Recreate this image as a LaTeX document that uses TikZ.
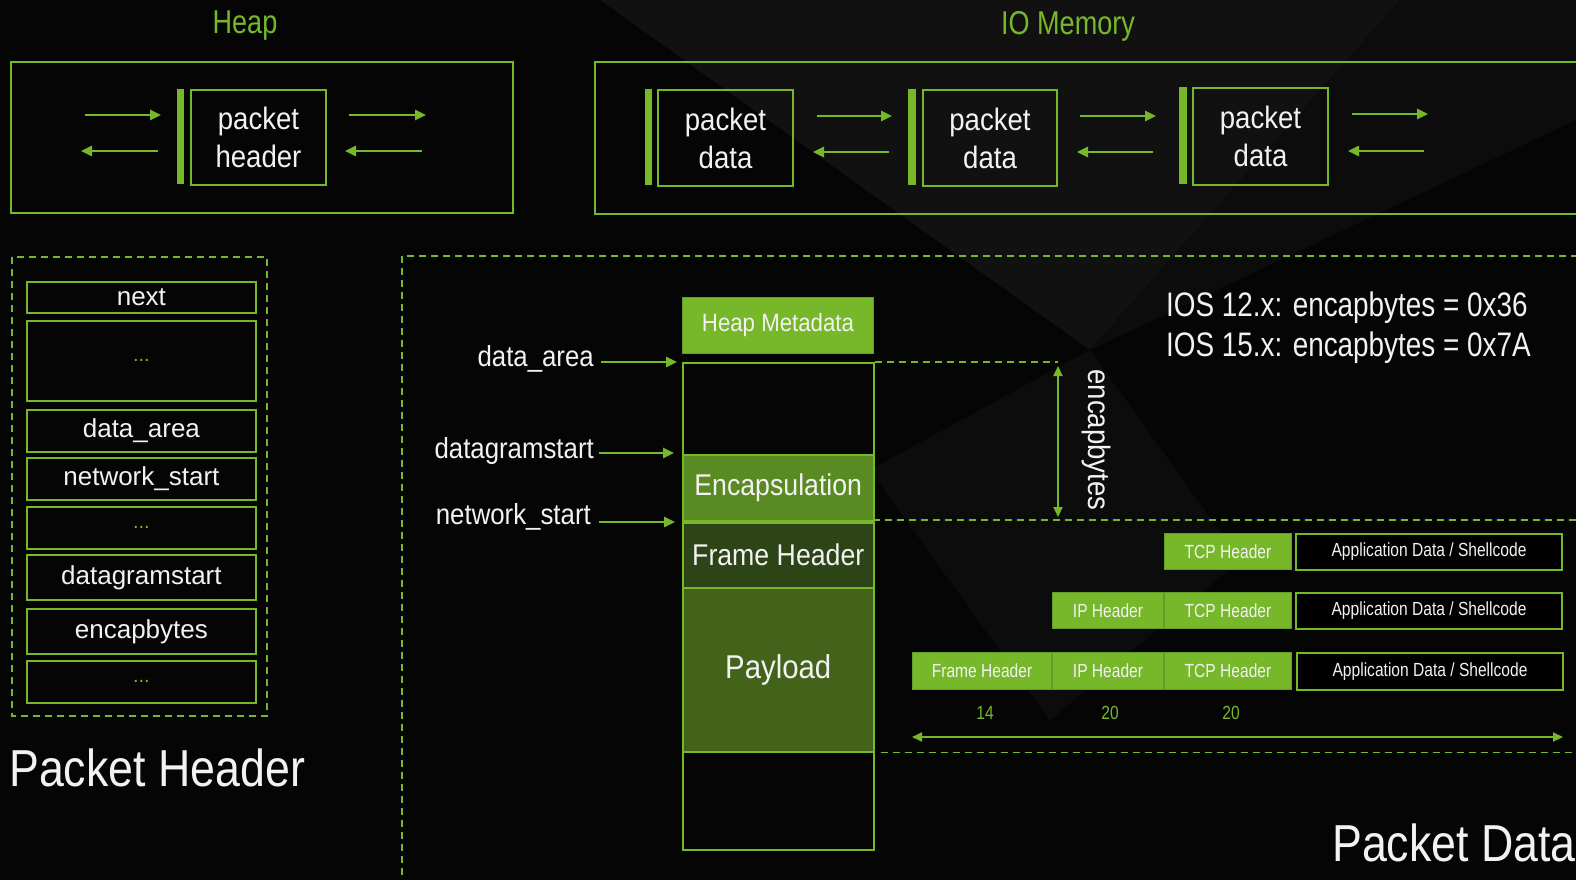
\documentclass[tikz,border=0pt]{standalone}
\usepackage{fontspec}
\setmainfont{Liberation Sans}
\newfontfamily\condf[FakeStretch=0.82]{Liberation Sans}
\newfontfamily\midf[FakeStretch=0.89]{Liberation Sans}
\newfontfamily\bigf[FakeStretch=0.86]{Liberation Sans}
\usetikzlibrary{arrows.meta}
\definecolor{ngreen}{HTML}{76B82A}
\definecolor{hdrg}{HTML}{76B82A}
\definecolor{encg}{HTML}{5A8A22}
\definecolor{frg}{HTML}{2D4516}
\definecolor{payg}{HTML}{43631A}
\definecolor{bgc}{HTML}{050505}
\definecolor{bgl}{HTML}{111111}
\definecolor{bgm}{HTML}{0C0C0C}
\definecolor{txt}{HTML}{F2F2F2}
\newcommand{\fsz}[2]{\fontsize{#1}{#2}\selectfont}
\begin{document}
\begin{tikzpicture}[x=1pt,y=-1pt,
  frame/.style={draw=ngreen,line width=2pt},
  gbar/.style={fill=ngreen,draw=none,inner sep=0pt,anchor=north west},
  pbox/.style={draw=ngreen,line width=2pt,text=txt,align=center,inner sep=0pt,anchor=north west,font=\midf\fsz{31}{38}},
  title/.style={text=ngreen,font=\condf\fsz{33}{36}},
  fld/.style={draw=ngreen,line width=1.8pt,text=txt,inner sep=0pt,anchor=north west,minimum width=229pt,font=\fsz{26}{30}},
  dots/.style={text=ngreen,font=\fsz{20}{24}},
  arr/.style={ngreen,line width=2.5pt,-{Triangle[length=11pt,width=10pt]}},
  darr/.style={ngreen,line width=2pt,{Triangle[length=10pt,width=9pt]}-{Triangle[length=10pt,width=9pt]}},
  dsh/.style={ngreen,line width=1.5pt,dash pattern=on 7pt off 5pt},
  lbl/.style={text=txt,anchor=east,font=\midf\fsz{29}{32},inner sep=0pt},
  col/.style={draw=ngreen,line width=1.5pt,inner sep=0pt,anchor=north west,minimum width=191pt,text=txt},
  hdr/.style={fill=hdrg,draw=ngreen!85!black,line width=1pt,text=txt,inner sep=0pt,anchor=north west,font=\condf\fsz{19}{22}},
  app/.style={fill=black,draw=ngreen,line width=2pt,text=txt,inner sep=0pt,anchor=north west,minimum width=266pt,font=\condf\fsz{19}{22}},
  num/.style={text=ngreen,font=\condf\fsz{19}{22}},
  big/.style={text=txt,anchor=base west,inner sep=0pt,font=\bigf\fsz{52}{56}},
  iosl/.style={text=txt,anchor=base west,inner sep=0pt,font=\condf\fsz{34}{40}}
]
\useasboundingbox (0,0) rectangle (1576,880);
\clip (0,0) rectangle (1576,880);
% background
\fill[bgc] (0,0) rectangle (1576,880);
\fill[bgl] (600,0) -- (1400,0) -- (1090,350) -- cycle;
\fill[bgm] (1090,350) -- (1240,560) -- (1050,720) -- (870,470) -- cycle;
\fill[bgm] (1400,0) -- (1576,0) -- (1576,120) -- (1090,350) -- cycle;

% ===== Heap =====
\node[title] (heapt) at (245,26) {Heap};
\node[frame,anchor=north west,minimum width=502pt,minimum height=151pt,inner sep=0pt] (heapbox) at (10,61) {};
\node[gbar,minimum width=7pt,minimum height=95pt] (hbar) at (177,89) {};
\node[pbox,minimum width=135pt,minimum height=95pt] (ph) at (190,89) {packet\\header};
\coordinate (h1a) at (85,115);  \coordinate (h1b) at (161,115);
\coordinate (h2a) at (158,151); \coordinate (h2b) at (81,151);
\coordinate (h3a) at (349,115); \coordinate (h3b) at (426,115);
\coordinate (h4a) at (422,151); \coordinate (h4b) at (345,151);
\draw[arr] (h1a) -- (h1b);
\draw[arr] (h2a) -- (h2b);
\draw[arr] (h3a) -- (h3b);
\draw[arr] (h4a) -- (h4b);

% ===== IO Memory =====
\node[title] (iot) at (1068,26) {IO Memory};
\node[frame,anchor=north west,minimum width=1000pt,minimum height=152pt,inner sep=0pt] (iobox) at (594,61) {};
\node[gbar,minimum width=7pt,minimum height=96pt] (b1) at (645,89) {};
\node[pbox,minimum width=135pt,minimum height=96pt] (d1) at (657,89) {packet\\data};
\node[gbar,minimum width=8pt,minimum height=96pt] (b2) at (908,89) {};
\node[pbox,minimum width=134pt,minimum height=96pt] (d2) at (922,89) {packet\\data};
\node[gbar,minimum width=8pt,minimum height=97pt] (b3) at (1179,87) {};
\node[pbox,minimum width=135pt,minimum height=97pt] (d3) at (1192,87) {packet\\data};
\coordinate (i1a) at (817,116);  \coordinate (i1b) at (892,116);
\coordinate (i2a) at (889,152);  \coordinate (i2b) at (813,152);
\coordinate (i3a) at (1080,116); \coordinate (i3b) at (1156,116);
\coordinate (i4a) at (1153,152); \coordinate (i4b) at (1077,152);
\coordinate (i5a) at (1352,114); \coordinate (i5b) at (1428,114);
\coordinate (i6a) at (1424,151); \coordinate (i6b) at (1348,151);
\draw[arr] (i1a) -- (i1b);
\draw[arr] (i2a) -- (i2b);
\draw[arr] (i3a) -- (i3b);
\draw[arr] (i4a) -- (i4b);
\draw[arr] (i5a) -- (i5b);
\draw[arr] (i6a) -- (i6b);

% ===== Packet Header panel =====
\draw[dsh] (12,257) rectangle (267,716);
\node[fld,minimum height=31pt] (f1) at (26,281) {next};
\node[fld,minimum height=80pt] (f2) at (26,320) {};
\node[dots] (f2d) at (f2.center) {...};
\node[fld,minimum height=42pt] (f3) at (26,409) {data\_area};
\node[fld,minimum height=42pt] (f4) at (26,457) {network\_start};
\node[fld,minimum height=42pt] (f5) at (26,506) {};
\node[dots] (f5d) at (f5.center) {...};
\node[fld,minimum height=45pt] (f6) at (26,554) {datagramstart};
\node[fld,minimum height=45pt] (f7) at (26,608) {encapbytes};
\node[fld,minimum height=42pt] (f8) at (26,660) {};
\node[dots] (f8d) at (f8.center) {...};
\node[big] (pht) at (9,786) {Packet Header};

% ===== Packet Data panel =====
\draw[dsh] (402,256) rectangle (1600,900);
\node[fill=hdrg,draw=ngreen!85!black,line width=1pt,text=txt,inner sep=0pt,anchor=north west,minimum width=191pt,minimum height=56pt,font=\midf\fsz{25}{28}] (hm) at (682,297) {Heap Metadata};
\node[col,minimum height=487pt] (colm) at (682,362) {};
\node[col,fill=encg,minimum height=66pt,font=\midf\fsz{30}{34}] (enc) at (682,454) {Encapsulation};
\node[col,fill=frg,minimum height=65pt,font=\midf\fsz{30}{34}] (frh) at (682,522) {Frame Header};
\node[col,fill=payg,minimum height=164pt,font=\midf\fsz{33}{36}] (pay) at (682,587) {Payload};

\node[lbl] (lda) at (594,359) {data\_area};
\node[lbl] (ldg) at (594,451) {datagramstart};
\node[lbl] (lns) at (591,517) {network\_start};
\coordinate (pda) at (677,362);
\coordinate (pdg) at (674,453);
\coordinate (pns) at (675,522);
\draw[arr] ([xshift=7pt]lda.east |- pda) -- (pda);
\draw[arr] ([xshift=5pt]ldg.east |- pdg) -- (pdg);
\draw[arr] ([xshift=8pt]lns.east |- pns) -- (pns);

\coordinate (e1) at (1058,362);
\coordinate (e2) at (1600,520);
\draw[dsh] (colm.north east) -- (e1);
\draw[dsh] (enc.south east) -- (e2 -| enc.south east) -- (e2);
\draw[dsh] ([xshift=6pt]pay.south east) -- ++(800,0);
\coordinate (ea) at (1058,366);
\coordinate (eb) at (1058,517);
\draw[darr] (ea) -- (eb);
\node[text=txt,rotate=-90,font=\midf\fsz{31}{34},inner sep=0pt] (encl) at (1096,440) {encapbytes};

\node[iosl] (ios1) at (1166,316) {IOS 12.x: encapbytes = 0x36};
\node[iosl] (ios2) at (1166,356) {IOS 15.x: encapbytes = 0x7A};

% rows
\node[hdr,minimum width=127pt,minimum height=36pt] (r1t) at (1164,533) {TCP Header};
\node[app,minimum height=36pt] (r1a) at (1295,533) {Application Data / Shellcode};
\node[hdr,minimum width=111pt,minimum height=36pt] (r2i) at (1052,592) {IP Header};
\node[hdr,minimum width=127pt,minimum height=36pt] (r2t) at (1164,592) {TCP Header};
\node[app,minimum height=36pt] (r2a) at (1295,592) {Application Data / Shellcode};
\node[hdr,minimum width=139pt,minimum height=37pt] (r3f) at (912,652) {Frame Header};
\node[hdr,minimum width=111pt,minimum height=37pt] (r3i) at (1052,652) {IP Header};
\node[hdr,minimum width=127pt,minimum height=37pt] (r3t) at (1164,652) {TCP Header};
\node[app,minimum height=37pt] (r3a) at (1296,652) {Application Data / Shellcode};
\node[num] (n1) at (985,713) {14};
\node[num] (n2) at (1110,713) {20};
\node[num] (n3) at (1231,713) {20};
\coordinate (la) at (912,737);
\coordinate (lb) at (1563,737);
\draw[darr] (la) -- (lb);

\node[big] (pdt) at (1332,861) {Packet Data};
\end{tikzpicture}
\end{document}
